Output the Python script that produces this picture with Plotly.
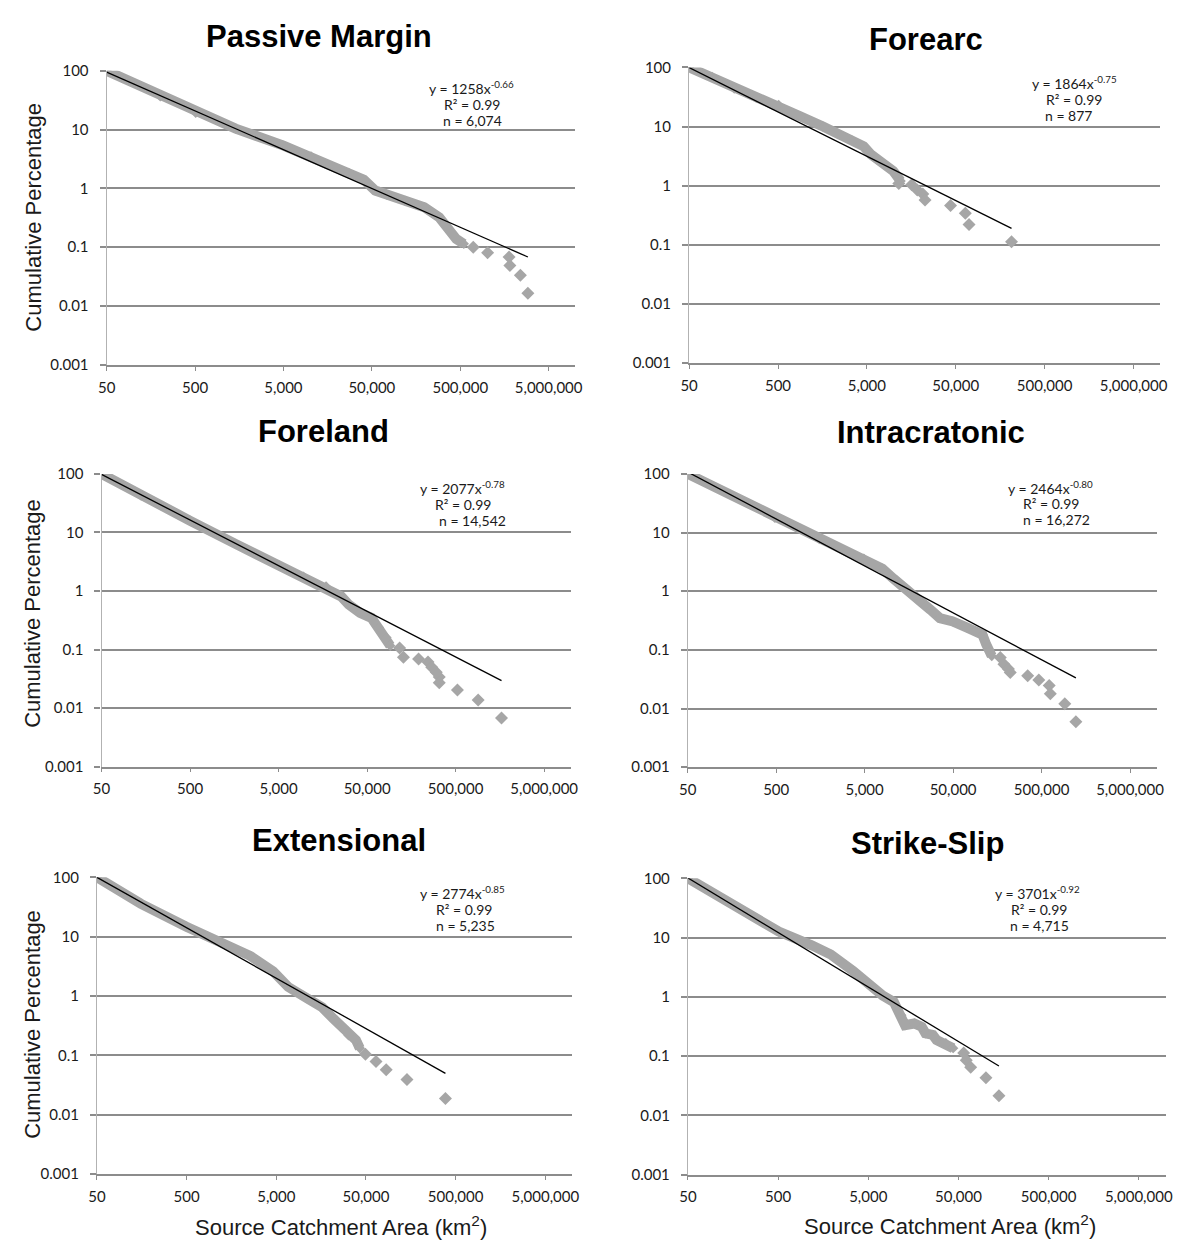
import plotly.graph_objects as go

# ---------------------------------------------------------------------------
# Cumulative percentage of source catchments larger than a given area,
# by tectonic setting. "band" = densely packed observations, "tail" = the
# sparse largest catchments. Fit parameters are the power-law trendlines.
# ---------------------------------------------------------------------------

passive_band_x = [50, 75, 202, 508, 1439, 5012, 10260, 27400, 40600, 54600, 73300,
                  119700, 195600, 289600, 370300, 450800, 548300]
passive_band_y = [100, 75.3, 37.0, 19.4, 10.4, 5.34, 3.49, 1.83, 1.41, 0.92, 0.79,
                  0.61, 0.48, 0.32, 0.204, 0.138, 0.114]
passive_tail_x = [701000, 1019000, 1783000, 1820000, 2394000, 2911000]
passive_tail_y = [0.100, 0.0805, 0.068, 0.049, 0.0335, 0.0164]
passive_fit = (1258, -0.66)

forearc_band_x = [50, 90.6, 161, 286, 508, 902, 1603, 2350, 3450, 4594, 5570, 7420, 9890, 11970]
forearc_band_y = [100, 68.9, 43.9, 30.7, 23.1, 14.7, 10.0, 7.46, 5.77, 4.63, 3.36, 2.44, 1.77, 1.20]
forearc_tail_x = [11430, 15970, 18430, 21300, 22550, 43650, 64000, 70500, 212000]
forearc_tail_y = [1.09, 1.03, 0.84, 0.72, 0.57, 0.46, 0.34, 0.22, 0.112]
forearc_fit = (1864, -0.75)

foreland_band_x = [50, 140, 502, 1629, 5035, 9530, 17180, 25460, 30970, 41600, 55800,
                   67900, 82600, 91200]
foreland_band_y = [100, 42.6, 15.8, 6.38, 2.75, 1.75, 1.19, 0.807, 0.585, 0.423, 0.348,
                   0.237, 0.160, 0.116]
foreland_tail_x = [116500, 128500, 190400, 243400, 268600, 302000, 326600, 326600,
                   523400, 897800, 1648000]
foreland_tail_y = [0.106, 0.074, 0.069, 0.061, 0.050, 0.041, 0.034, 0.027,
                   0.0203, 0.0138, 0.00676]
foreland_fit = (2077, -0.78)

intra_band_x = [50, 152, 483, 1538, 4895, 7930, 10590, 15590, 20800, 27800, 35400,
                49600, 73000, 107400, 118300, 136700]
intra_band_y = [100, 44.3, 17.9, 7.74, 3.57, 2.42, 1.64, 1.045, 0.665, 0.481, 0.348,
                0.306, 0.237, 0.182, 0.124, 0.0788]
intra_tail_x = [170700, 187800, 211000, 221400, 348500, 465500, 610000, 628000,
                915000, 1222000]
intra_tail_y = [0.074, 0.057, 0.047, 0.041, 0.0363, 0.0307, 0.0247, 0.0178,
                0.0121, 0.00594]
intra_fit = (2464, -0.80)

ext_band_x = [50, 155, 497, 1186, 2575, 4600, 6780, 11000, 16200, 21670, 26300,
              31900, 38700, 42700]
ext_band_y = [100, 35.6, 14.7, 8.0, 4.7, 2.6, 1.42, 0.912, 0.646, 0.413, 0.300,
              0.218, 0.180, 0.131]
ext_tail_x = [49300, 64700, 84000, 143200, 384600]
ext_tail_y = [0.104, 0.0787, 0.0572, 0.039, 0.0186]
ext_fit = (2774, -0.85)

strike_band_x = [50, 149, 509, 1196, 1920, 3390, 4950, 7240, 9620, 11620, 12770,
                 16180, 19580, 21530, 26000, 28600, 36200, 43700]
strike_band_y = [100, 37.4, 12.6, 7.31, 5.18, 2.74, 1.64, 1.05, 0.813, 0.488, 0.332,
                 0.355, 0.312, 0.242, 0.227, 0.187, 0.165, 0.136]
strike_tail_x = [57200, 61000, 68400, 100900, 140600]
strike_tail_y = [0.1125, 0.085, 0.065, 0.0432, 0.0214]
strike_fit = (3701, -0.92)

titles = ["Passive Margin", "Forearc", "Foreland", "Intracratonic", "Extensional", "Strike-Slip"]
stats_r2 = ["0.99", "0.99", "0.99", "0.99", "0.99", "0.99"]
stats_n = ["6,074", "877", "14,542", "16,272", "5,235", "4,715"]

x_ticks = [50, 500, 5000, 50000, 500000, 5000000]
x_tick_labels = ["50", "500", "5,000", "50,000", "500,000", "5,000,000"]
y_ticks = [0.001, 0.01, 0.1, 1, 10, 100]
y_tick_labels = ["0.001", "0.01", "0.1", "1", "10", "100"]

panels = [
    (passive_band_x, passive_band_y, passive_tail_x, passive_tail_y, passive_fit),
    (forearc_band_x, forearc_band_y, forearc_tail_x, forearc_tail_y, forearc_fit),
    (foreland_band_x, foreland_band_y, foreland_tail_x, foreland_tail_y, foreland_fit),
    (intra_band_x, intra_band_y, intra_tail_x, intra_tail_y, intra_fit),
    (ext_band_x, ext_band_y, ext_tail_x, ext_tail_y, ext_fit),
    (strike_band_x, strike_band_y, strike_tail_x, strike_tail_y, strike_fit),
]

# ---------------------------------------------------------------------------
# Page geometry (pixels)
# ---------------------------------------------------------------------------
W, H = 1189, 1246
# plot boxes: left, right, top, bottom
boxes = [
    (99, 574, 61.7, 360),
    (689.4, 1167, 58.3, 358),
    (93.8, 569.5, 470.7, 767.7),
    (688, 1163.3, 470.7, 768.3),
    (89.2, 571, 880, 1181),
    (688.2, 1172.7, 881, 1181.7),
]
title_pos = [(314, 27), (930, 30), (319, 428), (935, 429), (334, 843), (931, 846)]
stats_pos = [
    ((469, 79), (469, 96), (470, 112)),
    ((1080, 74), (1080, 91), (1074, 107)),
    ((460, 485), (460, 502), (470, 518)),
    ((1056, 484), (1056, 501), (1062, 517)),
    ((460, 895), (461, 913), (463, 929)),
    ((1043, 895), (1044, 913), (1045, 929)),
]
ytitle_pos = [(25, 210), (23, 612), (23, 1029)]
xtitle_pos = [(337, 1234), (954, 1233)]


def px(x):
    return x / W


def py(y):
    return 1 - y / H


GRID = "#8c8c8c"
AXIS = "#b2b2b2"
MARK = "#a6a6a6"
TICK_FONT = dict(family="Lato, Carlito, Calibri, sans-serif", size=15, color="#1a1a1a")
STAT_FONT = dict(family="Lato, Carlito, Calibri, sans-serif", size=14, color="#1a1a1a")
TITLE_FONT = dict(family="Liberation Sans, Arial, sans-serif", size=31, color="black")
AXIS_TITLE_FONT = dict(family="Liberation Sans, Arial, sans-serif", size=22, color="#1a1a1a")

fig = go.Figure()
layout = dict(
    width=W, height=H,
    margin=dict(l=0, r=0, t=0, b=0),
    paper_bgcolor="white", plot_bgcolor="white",
    showlegend=False,
)
annotations = []

for i, (bx, by, tx, ty, (a, b)) in enumerate(panels):
    k = "" if i == 0 else str(i + 1)
    xa, ya = "x" + k, "y" + k
    l, r, t, btm = boxes[i]

    # densely packed observations
    fig.add_trace(go.Scatter(
        x=bx, y=by, xaxis=xa, yaxis=ya, mode="lines+markers",
        line=dict(color=MARK, width=10),
        marker=dict(symbol="diamond", size=8, color=MARK),
        hoverinfo="x+y",
    ))
    # sparse largest catchments
    fig.add_trace(go.Scatter(
        x=tx, y=ty, xaxis=xa, yaxis=ya, mode="markers",
        marker=dict(symbol="diamond", size=10, color=MARK),
        hoverinfo="x+y",
    ))
    # power-law trendline y = a * x^b over the data extent
    x_end = [bx[0], max(tx)]
    fig.add_trace(go.Scatter(
        x=x_end, y=[a * v ** b for v in x_end], xaxis=xa, yaxis=ya,
        mode="lines", line=dict(color="black", width=1.3), hoverinfo="skip",
    ))

    layout["xaxis" + k] = dict(
        type="log", range=[1.69897, 7.0], domain=[px(l), px(r)], anchor=ya,
        tickvals=x_ticks, ticktext=x_tick_labels, tickfont=TICK_FONT,
        showgrid=False, zeroline=False,
        showline=True, linecolor=GRID, linewidth=1.5,
        ticks="outside", ticklen=4, tickcolor=GRID, tickwidth=1.2,
        ticklabelstandoff=4,
    )
    layout["yaxis" + k] = dict(
        type="log", range=[-3, 2], domain=[py(btm), py(t)], anchor=xa,
        tickvals=y_ticks, ticktext=y_tick_labels, tickfont=TICK_FONT,
        showgrid=True, gridcolor=GRID, gridwidth=1.5, zeroline=False,
        showline=True, linecolor=AXIS, linewidth=1.2,
        ticks="outside", ticklen=6, tickcolor=GRID, tickwidth=1.5,
        ticklabelstandoff=8,
    )

    # panel title
    annotations.append(dict(
        text="<b>%s</b>" % titles[i], x=px(title_pos[i][0]), y=py(title_pos[i][1]),
        xref="paper", yref="paper", xanchor="center", yanchor="middle", showarrow=False,
        font=TITLE_FONT,
    ))
    # trendline equation and statistics
    lines = [
        "y = %dx<sup>%.2f</sup>" % (a, b),
        "R² = %s" % stats_r2[i],
        "n = %s" % stats_n[i],
    ]
    for (sx, sy), txt in zip(stats_pos[i], lines):
        annotations.append(dict(
            text=txt, x=px(sx), y=py(sy), xref="paper", yref="paper",
            xanchor="center", yanchor="middle", showarrow=False, font=STAT_FONT,
        ))

for (x, y) in ytitle_pos:
    annotations.append(dict(
        text="Cumulative Percentage", x=px(x), y=py(y), xref="paper", yref="paper",
        xanchor="center", yanchor="middle", textangle=-90, showarrow=False,
        font=AXIS_TITLE_FONT,
    ))
for (x, y) in xtitle_pos:
    annotations.append(dict(
        text="Source Catchment Area (km<sup>2</sup>)", x=px(x), y=py(y),
        xref="paper", yref="paper", xanchor="center", yanchor="middle", showarrow=False,
        font=AXIS_TITLE_FONT,
    ))

layout["annotations"] = annotations
fig.update_layout(**layout)
fig.write_html("out.html")
